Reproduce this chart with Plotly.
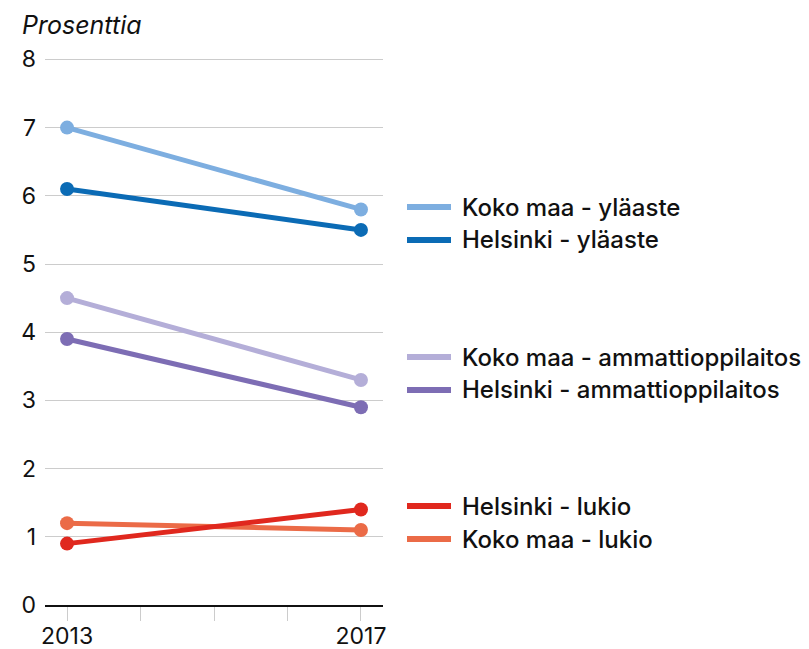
import plotly.graph_objects as go

years = [2013, 2017]
tick_years = [2013, 2014, 2015, 2016, 2017]
tick_text = ["2013", "", "", "", "2017"]
y_ticks = [0, 1, 2, 3, 4, 5, 6, 7, 8]

series_names = [
    "Koko maa - lukio",
    "Helsinki - lukio",
    "Koko maa - ammattioppilaitos",
    "Helsinki - ammattioppilaitos",
    "Koko maa - yläaste",
    "Helsinki - yläaste",
]
koko_lukio = [1.2, 1.1]
hki_lukio = [0.9, 1.4]
koko_ammatti = [4.5, 3.3]
hki_ammatti = [3.9, 2.9]
koko_ylaaste = [7.0, 5.8]
hki_ylaaste = [6.1, 5.5]
series_values = [koko_lukio, hki_lukio, koko_ammatti, hki_ammatti, koko_ylaaste, hki_ylaaste]
colors = ["#EB6B47", "#E0281E", "#B4AED8", "#7D6DB4", "#7DAEE0", "#0B6BB5"]

# legend order (top to bottom) and pixel rows
legend_order = [4, 5, 2, 3, 1, 0]
legend_rows_px = [207, 240, 357, 390, 506, 539]

W, H = 809, 649
L, R, T, B = 45, 383, 56, 605
Y_MAX = 8.05

fig = go.Figure()
for name, vals, col in zip(series_names, series_values, colors):
    fig.add_trace(go.Scatter(
        x=years, y=vals, mode="lines+markers", name=name,
        line=dict(color=col, width=5),
        marker=dict(color=col, size=14),
        showlegend=False, hoverinfo="skip",
    ))

FONT = "Inter"
shapes = []
annotations = []
pw = R - L
ph = B - T
for idx, ypx in zip(legend_order, legend_rows_px):
    yp = (B - ypx) / ph
    shapes.append(dict(type="line", xref="paper", yref="paper",
                       x0=(407 - L) / pw, x1=(451 - L) / pw, y0=yp, y1=yp,
                       line=dict(color=colors[idx], width=6), layer="above"))
    annotations.append(dict(xref="paper", yref="paper", x=(460 - L) / pw, y=yp,
                            text=series_names[idx], showarrow=False,
                            xanchor="left", yanchor="middle",
                            font=dict(family=FONT, size=24, color="#111", weight=500)))

annotations.append(dict(xref="paper", yref="paper", x=(20 - L) / pw, y=(B - 25) / ph,
                        text="<i>Prosenttia</i>", showarrow=False,
                        xanchor="left", yanchor="middle",
                        font=dict(family=FONT, size=25, color="#111")))

fig.update_layout(
    width=W, height=H,
    margin=dict(l=L, r=W - R, t=T, b=H - B, pad=0),
    paper_bgcolor="white", plot_bgcolor="white",
    font=dict(family=FONT, size=23, color="#111"),
    shapes=shapes, annotations=annotations,
    xaxis=dict(range=[2012.70, 2017.30], tickvals=tick_years, ticktext=tick_text,
               showgrid=False, zeroline=False, showline=True, linecolor="#111", linewidth=2,
               ticks="outside", ticklen=14, tickcolor="#cccccc", tickwidth=1,
               automargin=False, ticklabelstandoff=-5,
               tickfont=dict(family=FONT, size=23, color="#111")),
    yaxis=dict(range=[0, Y_MAX], tickvals=y_ticks, showgrid=True, gridcolor="#cccccc", gridwidth=1,
               zeroline=False, showline=False, ticks="", ticklabelstandoff=8,
               automargin=False,
               tickfont=dict(family=FONT, size=23, color="#111")),
)

fig.write_html("out.html", config={"displayModeBar": False},
               post_script="document.body.style.margin='0px';document.body.style.overflow='hidden';")
